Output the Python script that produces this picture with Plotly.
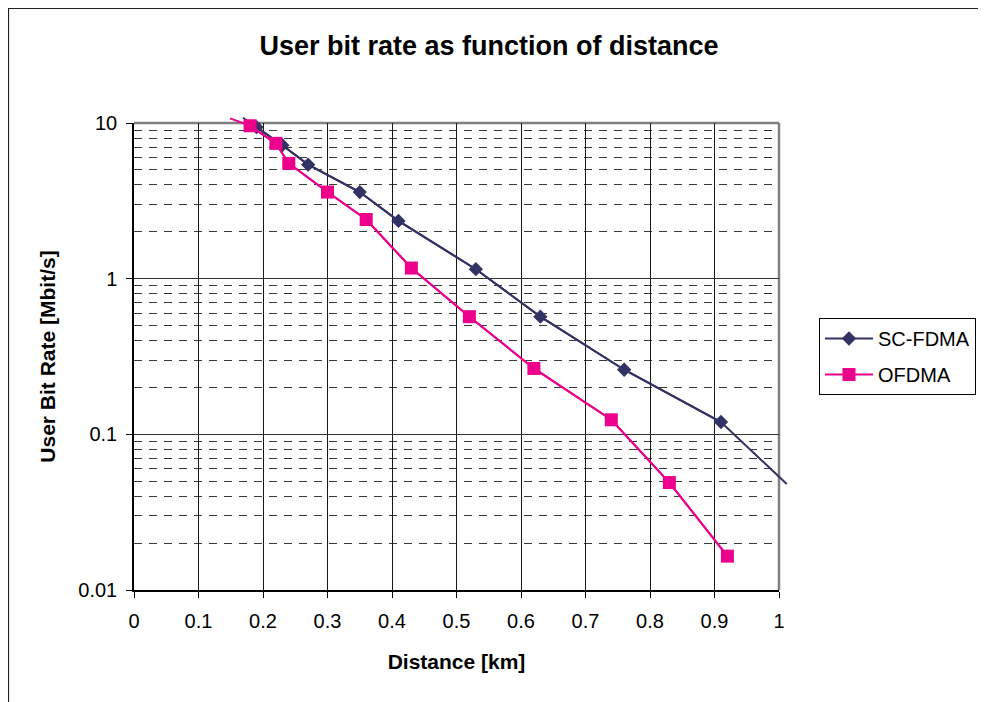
import plotly.graph_objects as go

# ---------------- data ----------------
distance_sc = [0.19, 0.23, 0.27, 0.35, 0.41, 0.53, 0.63, 0.76, 0.91]
rate_sc = [9.4, 7.2, 5.4, 3.6, 2.35, 1.15, 0.57, 0.26, 0.12]
# visible ends of the SC-FDMA line beyond the axis frame
sc_line_start = (0.169, 10.8)
sc_line_end = (1.012, 0.048)

distance_of = [0.18, 0.22, 0.24, 0.30, 0.36, 0.43, 0.52, 0.62, 0.74, 0.83, 0.92]
rate_of = [9.6, 7.4, 5.5, 3.6, 2.4, 1.17, 0.57, 0.265, 0.124, 0.049, 0.0165]
of_line_start = (0.149, 10.7)

x_tickvals = [0, 0.1, 0.2, 0.3, 0.4, 0.5, 0.6, 0.7, 0.8, 0.9, 1.0]
x_ticktext = ["0", "0.1", "0.2", "0.3", "0.4", "0.5", "0.6", "0.7", "0.8", "0.9", "1"]
y_tickvals = [0.01, 0.1, 1, 10]
y_ticktext = ["0.01", "0.1", "1", "10"]
y_minorvals = [m * d for d in (0.01, 0.1, 1) for m in range(2, 10)]

title_text = "User bit rate as function of distance"
x_title = "Distance [km]"
y_title = "User Bit Rate [Mbit/s]"
names = ["SC-FDMA", "OFDMA"]

# ---------------- layout geometry ----------------
W, H = 986, 702
OFF = 8                                # page body margin
PL, PR, PT, PB = 134 - OFF, 779 - OFF, 123 - OFF, 590 - OFF   # plot frame (figure px)
EXT = 12                               # extra room for lines leaving the frame
ml, mr, mt, mb = PL - EXT, W - (PR + EXT), PT - EXT, H - (PB + EXT)
pw, ph = (PR - PL) + 2 * EXT, (PB - PT) + 2 * EXT
fw, fh = PR - PL, PB - PT

FONT = "Arial, 'Liberation Sans', sans-serif"
C_SC = "#323264"
C_OF = "#EC008C"

fig = go.Figure()

# placeholder so the main (visible) subplot exists
fig.add_trace(go.Scatter(x=[None], y=[None], xaxis="x", yaxis="y",
                         showlegend=False, hoverinfo="skip"))

# lines including the parts that leave the frame (drawn on an overlay subplot)
fig.add_trace(go.Scatter(
    x=[sc_line_start[0]] + distance_sc + [sc_line_end[0]],
    y=[sc_line_start[1]] + rate_sc + [sc_line_end[1]],
    mode="lines", line=dict(color=C_SC, width=2),
    xaxis="x2", yaxis="y2", showlegend=False, hoverinfo="skip"))
fig.add_trace(go.Scatter(
    x=distance_sc, y=rate_sc, name=names[0], mode="lines+markers",
    line=dict(color=C_SC, width=2),
    marker=dict(symbol="diamond", size=11, color=C_SC),
    xaxis="x2", yaxis="y2", cliponaxis=False, legendgroup="a"))
fig.add_trace(go.Scatter(
    x=[of_line_start[0]] + distance_of,
    y=[of_line_start[1]] + rate_of,
    mode="lines", line=dict(color=C_OF, width=2),
    xaxis="x2", yaxis="y2", showlegend=False, hoverinfo="skip"))
fig.add_trace(go.Scatter(
    x=distance_of, y=rate_of, name=names[1], mode="lines+markers",
    line=dict(color=C_OF, width=2),
    marker=dict(symbol="square", size=13, color=C_OF),
    xaxis="x2", yaxis="y2", cliponaxis=False, legendgroup="b"))

dom_x = [EXT / pw, (EXT + fw) / pw]
dom_y = [EXT / ph, (EXT + fh) / ph]
ex = EXT / fw
ey = 3 * EXT / fh

fig.update_layout(
    width=W, height=H,
    margin=dict(l=ml, r=mr, t=mt, b=mb, pad=0),
    paper_bgcolor="white", plot_bgcolor="rgba(0,0,0,0)",
    font=dict(family=FONT, size=20, color="black"),
    title=dict(text="<b>" + title_text + "</b>", font=dict(size=27, family=FONT),
               xref="container", yref="container", x=(489 - OFF) / W,
               y=1 - (46 - OFF) / H, xanchor="center", yanchor="middle"),
    xaxis=dict(domain=dom_x, range=[0, 1], tickvals=x_tickvals, ticktext=x_ticktext,
               showgrid=True, gridcolor="#1a1a1a", gridwidth=1,
               showline=True, linecolor="black", linewidth=1.5,
               ticks="outside", ticklen=6, tickcolor="black", tickwidth=1,
               ticklabelstandoff=6, zeroline=False, fixedrange=True,
               tickfont=dict(size=20),
               title=dict(text="<b>" + x_title + "</b>", font=dict(size=21), standoff=24),
               anchor="y"),
    yaxis=dict(domain=dom_y, type="log", range=[-2, 1], tickvals=y_tickvals,
               ticktext=y_ticktext,
               showgrid=True, gridcolor="#333333", gridwidth=1,
               minor=dict(tickvals=y_minorvals, showgrid=True, gridcolor="#3a3a3a",
                          gridwidth=1, griddash="8px,7px", ticks=""),
               showline=True, linecolor="black", linewidth=1.5,
               ticks="outside", ticklen=6, tickcolor="black", tickwidth=1,
               ticklabelstandoff=5, zeroline=False, fixedrange=True,
               tickfont=dict(size=20),
               title=dict(text="<b>" + y_title + "</b>", font=dict(size=21), standoff=17),
               anchor="x"),
    xaxis2=dict(domain=[0, 1], range=[-ex, 1 + ex], visible=False, anchor="y2",
                fixedrange=True),
    yaxis2=dict(domain=[0, 1], type="log", range=[-2 - ey, 1 + ey], visible=False,
                anchor="x2", fixedrange=True),
    legend=dict(x=(819 - OFF - ml) / pw, y=(PB + EXT - (318 - OFF)) / ph,
                xanchor="left", yanchor="top",
                bgcolor="white", bordercolor="black", borderwidth=1,
                font=dict(size=20, family=FONT), tracegroupgap=7,
                traceorder="grouped", itemwidth=48),
    showlegend=True,
    shapes=[
        # gray plot-area frame (top and right)
        dict(type="line", xref="x domain", yref="y domain", x0=0, x1=1, y0=1, y1=1,
             line=dict(color="#808080", width=2.5), layer="below"),
        dict(type="line", xref="x domain", yref="y domain", x0=1, x1=1, y0=0, y1=1,
             line=dict(color="#808080", width=2.5), layer="below"),
        # chart-area border (cropped at right and bottom)
        dict(type="rect", xref="paper", yref="paper",
             x0=(8 - OFF - ml) / pw + 0.5 / pw, x1=(W + 20 - ml) / pw,
             y0=-(H + 20 - (PB + EXT)) / ph, y1=(PB + EXT - (8 - OFF)) / ph - 0.5 / ph,
             line=dict(color="#222222", width=1.2), fillcolor="rgba(0,0,0,0)",
             layer="below"),
    ],
)

fig.write_html("out.html")
